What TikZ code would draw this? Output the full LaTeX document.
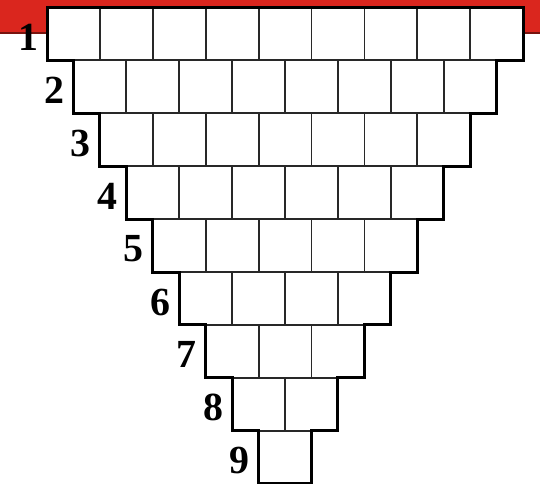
\documentclass[tikz,border=0pt]{standalone}
\usepackage{fontspec}
\newfontfamily\labfont{Liberation Serif}
\definecolor{barred}{RGB}{218,38,30}
\definecolor{bardark}{RGB}{120,20,15}
\definecolor{gridgray}{RGB}{40,40,40}
\tikzset{
  cellbox/.style={draw=gridgray, line width=1.8bp, fill=white, minimum size=52.9bp, inner sep=0pt, outer sep=0pt},
  rowlabel/.style={font=\labfont\bfseries\fontsize{40}{40}\selectfont, inner sep=0pt, text=black},
  outline/.style={draw=black, line width=3bp, line join=miter}
}
\begin{document}
\begin{tikzpicture}[x=1bp,y=-1bp]
\useasboundingbox (0,0) rectangle (540,484);
\fill[barred] (0bp,0bp) rectangle (540bp,-33bp);
\draw[bardark, line width=1.2bp] (0bp,-33bp) -- (540bp,-33bp);
\def\s{52.9}
\foreach \r in {1,...,9}{
  \pgfmathsetmacro{\xl}{47+(\r-1)*\s/2}
  \pgfmathsetmacro{\yt}{7.5+(\r-1)*\s}
  \pgfmathtruncatemacro{\n}{10-\r}
  \foreach \c in {1,...,\n}{
    \node[cellbox] (c-\r-\c) at ({\xl+(\c-0.5)*\s},{\yt+\s/2}) {};
  }
  \node[rowlabel] (lab-\r) at ({\xl-19},{\yt+30}) {\r};
}
\draw[outline]
  (c-1-1.north west)
  \foreach \r in {1,...,8}{ -- (c-\r-1.south west) -- (c-\r-1.south west -| c-\the\numexpr\r+1\relax-1.north west) }
  -- (c-9-1.south west) -- (c-9-1.south east) -- (c-9-1.north east)
  \foreach \r in {8,7,...,1}{ -- (c-\the\numexpr\r+1\relax-1.north west -| c-\r-\the\numexpr10-\r\relax.south east) -- (c-\r-\the\numexpr10-\r\relax.north east) }
  -- cycle;
\end{tikzpicture}
\end{document}
